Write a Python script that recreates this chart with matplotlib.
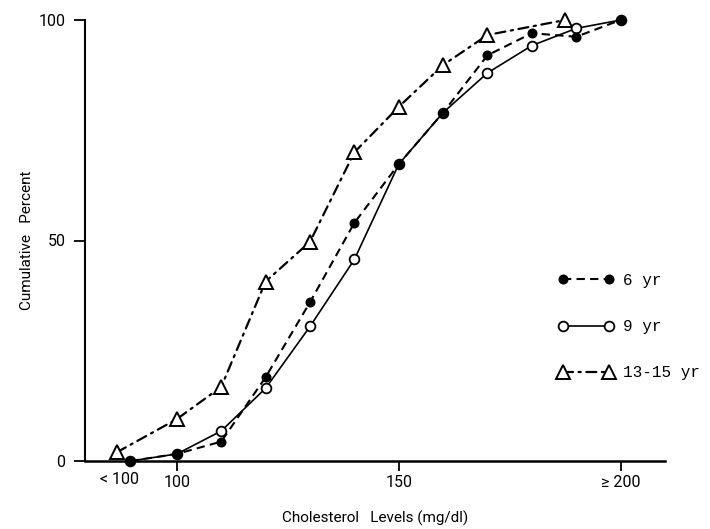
import matplotlib.pyplot as plt

# cholesterol level (mg/dl); the "< 100" group sits left of 100, "> 200" at 200
x_6yr = [89.5, 100, 110, 120, 130, 140, 150, 160, 170, 180, 190, 200]
y_6yr = [0, 1.6, 4.4, 19, 36, 54, 67.3, 79, 92, 97, 96.2, 100]

x_9yr = [89.5, 100, 110, 120, 130, 140, 150, 160, 170, 180, 190, 200]
y_9yr = [0, 1.6, 6.8, 16.5, 30.5, 45.7, 67.3, 79, 88, 94.2, 98.1, 100]

x_teen = [86.5, 100, 110, 120, 130, 140, 150, 160, 170, 187.5]
y_teen = [2, 9.5, 16.8, 40.7, 49.7, 70, 80.3, 89.8, 96.6, 100]

x_ticks = [100, 150, 200]
x_ticklabels = ["100", "150", "\u2265 200"]
y_ticks = [0, 50, 100]

label_font = ["Roboto", "DejaVu Sans"]
legend_font = ["Liberation Mono", "DejaVu Sans Mono"]

fig = plt.figure(figsize=(7.1, 5.29), dpi=100)
ax = fig.add_axes([85 / 710, 68 / 529, 580 / 710, 441 / 529])

ax.plot(x_9yr, y_9yr, color="black", lw=1.2, marker="o", ms=7,
        mfc="white", mec="black", mew=1.3, clip_on=False, zorder=3,
        label="9 yr")
ax.plot(x_6yr, y_6yr, color="black", lw=1.5, ls=(0, (4, 2.5)), marker="o",
        ms=6.2, mfc="black", mec="black", clip_on=False, zorder=4,
        label="6 yr")
ax.plot(x_teen, y_teen, color="black", lw=1.6, ls=(0, (4.5, 2.5, 1, 2.5)),
        dash_capstyle="round", marker="^", ms=10, mfc="white", mec="black",
        mew=1.4, clip_on=False, zorder=2, label="13-15 yr")

ax.set_xlim(79.3, 210)
ax.set_ylim(0, 100)

for side in ["top", "right"]:
    ax.spines[side].set_visible(False)
ax.spines["left"].set_linewidth(1.5)
ax.spines["bottom"].set_linewidth(1.8)

ax.set_xticks(x_ticks)
ax.set_xticklabels(x_ticklabels, family=label_font, fontsize=11.5)
ax.set_yticks(y_ticks)
ax.set_yticklabels([str(v) for v in y_ticks], family=label_font, fontsize=11.5)
ax.tick_params(axis="x", direction="out", length=7, width=1.3, pad=3)
ax.tick_params(axis="y", direction="out", length=8, width=1.3, pad=6)

ax.text(87, -2.6, "< 100", ha="center", va="top", fontsize=11.5,
        family=label_font, transform=ax.transData)

ax.set_xlabel("Cholesterol   Levels (mg/dl)", family=label_font, fontsize=11,
              labelpad=15)
ax.set_ylabel("Cumulative   Percent", family=label_font, fontsize=11,
              labelpad=3)

handles, labels = ax.get_legend_handles_labels()
order = [1, 0, 2]
ax.legend([handles[i] for i in order], [labels[i] for i in order],
          loc="upper left", bbox_to_anchor=(558 / 710, 1 - 273 / 529),
          bbox_transform=fig.transFigure, frameon=False, numpoints=2,
          handlelength=3.5, handletextpad=0.6, labelspacing=1.95,
          borderpad=0, borderaxespad=0,
          prop={"family": legend_font, "size": 11.5})

plt.savefig("out.png", dpi=100)
